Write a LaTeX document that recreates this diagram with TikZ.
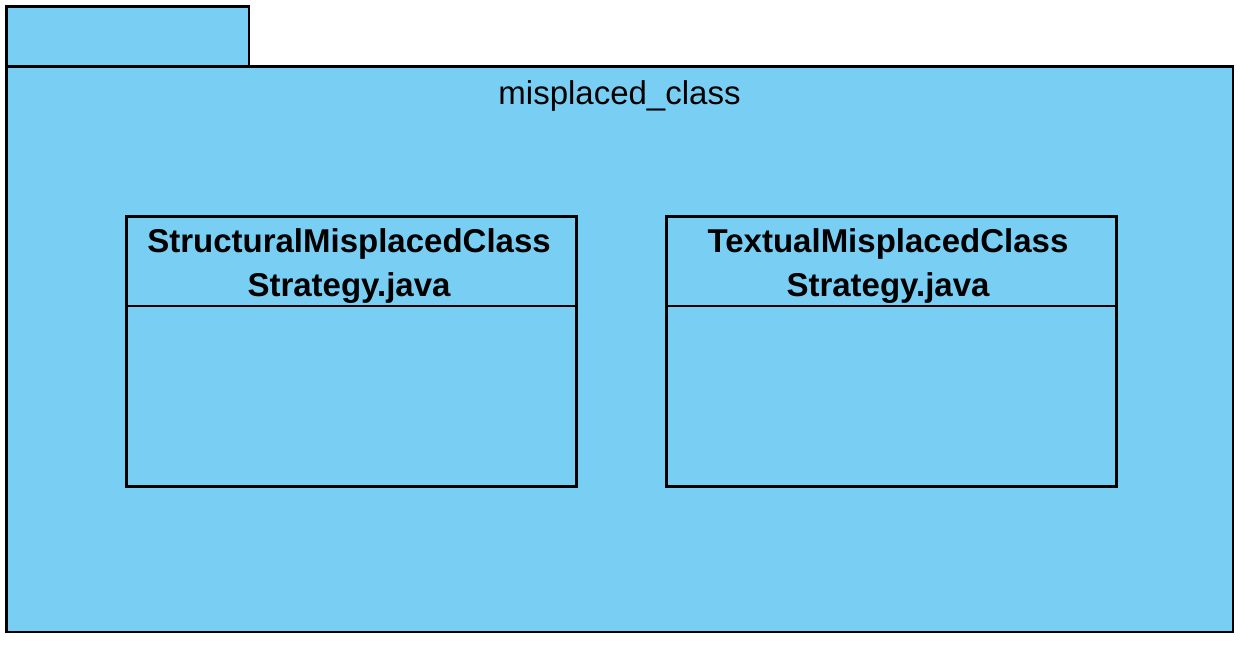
\documentclass[tikz,border=0pt]{standalone}
\usepackage{fontspec}
\setmainfont{Liberation Sans}
\definecolor{pkgblue}{HTML}{79CEF4}
\begin{document}
\begin{tikzpicture}[x=1pt,y=-1pt,
  box/.style={draw=black,line width=2.6pt,fill=pkgblue},
  cls/.style={draw=black,line width=2.2pt,fill=pkgblue},
  title/.style={font=\fontsize{33}{44.5}\selectfont\bfseries,align=center,inner sep=0pt}]
\useasboundingbox (0,0) rectangle (1248,648);
% tab
\draw[box] (6.5,6.5) rectangle (249,66.5);
% package body
\draw[box] (6.5,66.5) rectangle (1233,632);
\node[font=\fontsize{33}{40}\selectfont,anchor=base] (pkgname) at (619.5,104) {misplaced\_class};
% left class
\draw[cls] (126.5,216.5) rectangle (576.5,486.5);
\draw[line width=2.2pt] (126.5,306) -- (576.5,306);
\node[title,anchor=center] (lefttitle) at (349,266) {StructuralMisplacedClass\\Strategy.java};
% right class
\draw[cls] (666.5,216.5) rectangle (1116.5,486.5);
\draw[line width=2.2pt] (666.5,306) -- (1116.5,306);
\node[title,anchor=center] (righttitle) at (888,266) {TextualMisplacedClass\\Strategy.java};
\end{tikzpicture}
\end{document}
